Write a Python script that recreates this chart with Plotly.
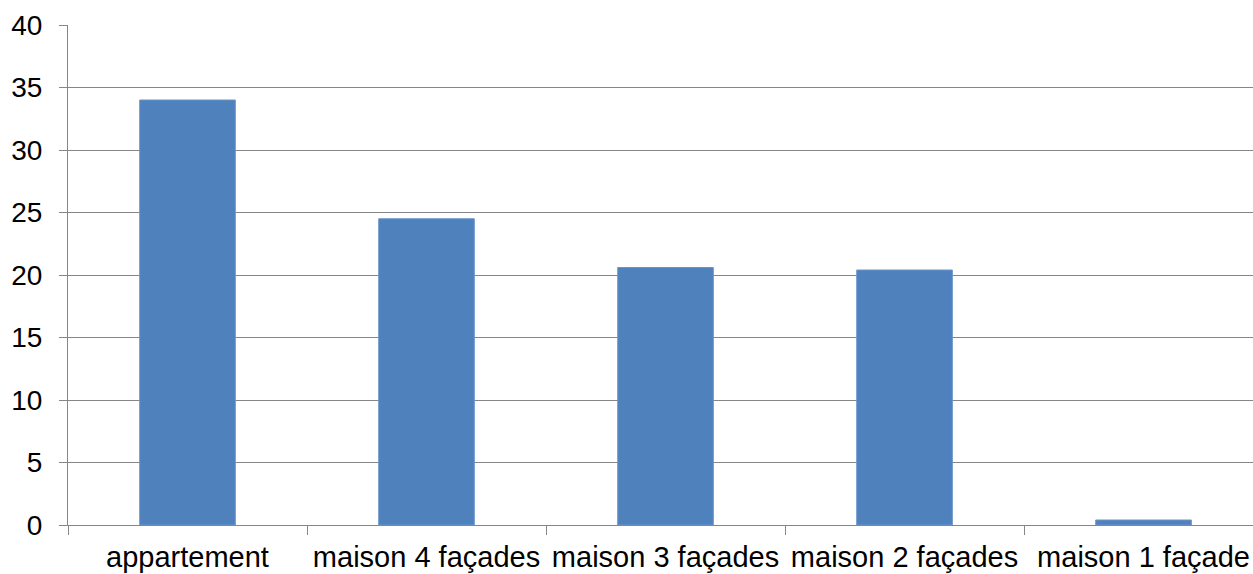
import plotly.graph_objects as go

categories = ['appartement', 'maison 4 façades', 'maison 3 façades', 'maison 2 façades', 'maison 1 façade']
values = [34.0, 24.5, 20.6, 20.4, 0.4]
y_ticks = [0, 5, 10, 15, 20, 25, 30, 35, 40]

grid_color = '#868686'

fig = go.Figure()

fig.add_trace(
    go.Bar(
        x=categories,
        y=values,
        marker=dict(color='#4F81BD', line=dict(color='#6A95CC', width=1)),
        width=0.4,
        hovertemplate='<b>%{x}</b><br>%{y}<extra></extra>'
    )
)

fig.update_layout(
    width=1253,
    height=574,
    margin=dict(l=68, r=0, t=25, b=49),
    plot_bgcolor='white',
    paper_bgcolor='white',
    showlegend=False,
    font=dict(family='Liberation Sans, Arial, sans-serif', color='black'),
)

# the right end of the category axis is cut off by the frame in the original
fig.update_xaxes(
    range=[-0.5, 4.458],
    tickson='boundaries',
    ticks='outside',
    ticklen=9,
    tickcolor=grid_color,
    showline=True,
    linecolor=grid_color,
    linewidth=1,
    showgrid=False,
    tickfont=dict(size=29),
    ticklabelstandoff=6,
)

fig.update_yaxes(
    range=[0, 40],
    tickvals=y_ticks,
    ticks='outside',
    ticklen=8,
    tickcolor=grid_color,
    showline=True,
    linecolor=grid_color,
    linewidth=1,
    showgrid=True,
    gridcolor=grid_color,
    gridwidth=1,
    zeroline=False,
    tickfont=dict(size=28),
    ticklabelstandoff=11,
)

# drop the default body margin so the chart sits flush with the window
fig.write_html(
    "out.html",
    config={'displayModeBar': False},
    post_script="document.body.style.margin='0';",
)
